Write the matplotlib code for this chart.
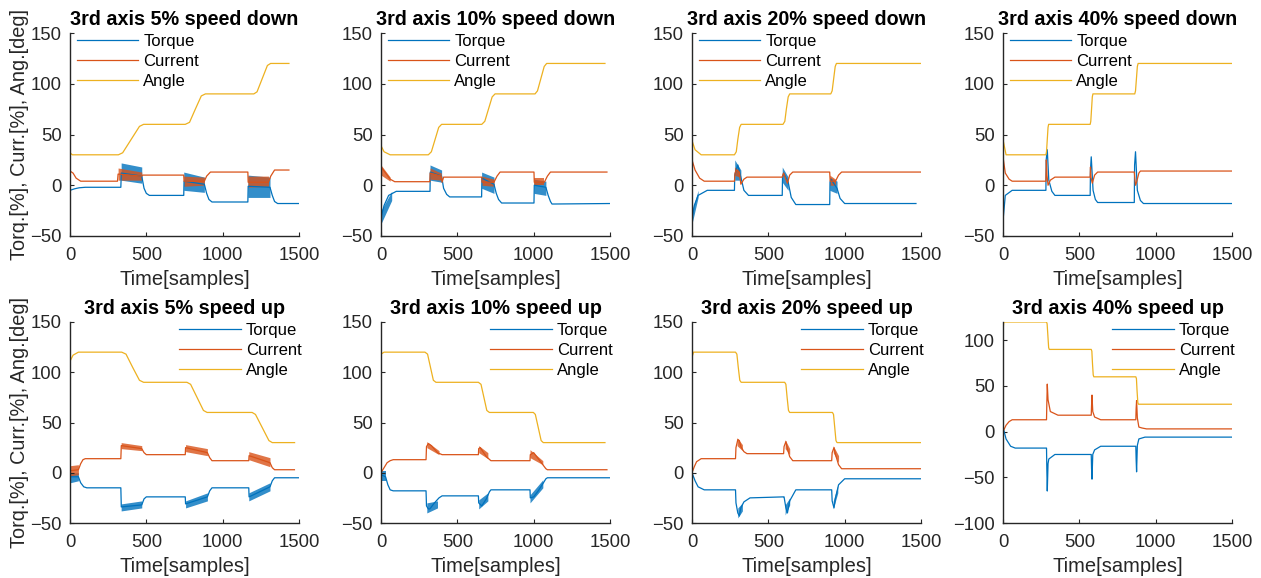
import matplotlib

matplotlib.use("Agg")
import matplotlib.pyplot as plt  # noqa: E402

plt.rcParams["font.family"] = ["Liberation Sans", "DejaVu Sans"]

TITLES = ["3rd axis 5% speed down", "3rd axis 10% speed down", "3rd axis 20% speed down",
          "3rd axis 40% speed down", "3rd axis 5% speed up", "3rd axis 10% speed up",
          "3rd axis 20% speed up", "3rd axis 40% speed up"]
YLIMS = [(-50, 150)] * 7 + [(-100, 120)]
YTICKS = [[-50, 0, 50, 100, 150]] * 7 + [[-100, -50, 0, 50, 100]]
XTICKS = [0, 500, 1000, 1500]

ANGLE_X = [
    [0, 15, 317, 345, 400, 455, 482, 755, 783, 821, 860, 887, 1204, 1225, 1259, 1293, 1314, 1434],
    [0, 20, 60, 310, 330, 354, 378, 397, 660, 680, 704, 728, 747, 1009, 1025, 1047, 1069, 1085, 1467],
    [0, 20, 60, 278, 290, 300, 312, 322, 596, 608, 618, 630, 640, 909, 918, 928, 938, 946, 1500],
    [0, 20, 281, 285, 290, 295, 299, 571, 575, 580, 585, 589, 863, 868, 874, 880, 885, 1500],
    [0, 20, 55, 339, 367, 410, 455, 482, 766, 790, 832, 874, 898, 1193, 1215, 1259, 1303, 1325, 1471],
    [0, 20, 288, 305, 324, 343, 360, 638, 655, 674, 693, 710, 998, 1011, 1030, 1049, 1063, 1467],
    [0, 10, 285, 294, 303, 313, 322, 607, 615, 623, 632, 640, 920, 927, 935, 943, 950, 1500],
    [0, 5, 285, 289, 294, 299, 303, 578, 582, 586, 591, 595, 870, 874, 878, 883, 887, 1500],
]
ANGLE_Y = [
    [32, 30, 30, 32, 45, 58, 60, 60, 62, 75, 88, 90, 90, 92, 105, 118, 120, 120],
    [39, 33, 30, 30, 33, 45, 57, 60, 60, 63, 75, 87, 90, 90, 93, 105, 117, 120, 120],
    [44, 35, 30, 30, 33, 45, 57, 60, 60, 63, 75, 87, 90, 90, 93, 105, 117, 120, 120],
    [45, 30, 30, 33, 45, 57, 60, 60, 63, 75, 87, 90, 90, 93, 105, 117, 120, 120],
    [111, 117, 120, 120, 118, 105, 92, 90, 90, 88, 75, 62, 60, 60, 58, 45, 32, 30, 30],
    [118, 120, 120, 118, 105, 92, 90, 90, 88, 75, 62, 60, 60, 58, 45, 32, 30, 30],
    [115, 120, 120, 118, 105, 92, 90, 90, 88, 75, 62, 60, 60, 58, 45, 32, 30, 30],
    [110, 120, 120, 118, 105, 92, 90, 90, 88, 75, 62, 60, 60, 58, 45, 32, 30, 30],
]
TORQUE_X = [
    [0, 30, 60, 100, 333, 336, 470, 485, 500, 520, 745, 747, 880, 895, 910, 930, 1165, 1167, 1310, 1325, 1340, 1360, 1500],
    [0, 20, 50, 100, 321, 323, 397, 410, 430, 450, 659, 661, 740, 755, 770, 790, 1002, 1004, 1080, 1095, 1110, 1120, 1500],
    [0, 15, 40, 100, 278, 280, 300, 320, 340, 370, 591, 593, 600, 630, 650, 680, 902, 904, 910, 950, 970, 1000, 1467],
    [0, 15, 60, 281, 283, 290, 300, 320, 340, 571, 573, 578, 590, 605, 620, 860, 862, 868, 880, 900, 920, 1500],
    [0, 55, 70, 90, 110, 333, 336, 470, 485, 500, 755, 757, 900, 915, 930, 1171, 1173, 1310, 1325, 1340, 1500],
    [0, 30, 45, 60, 80, 295, 298, 310, 320, 350, 380, 400, 638, 640, 660, 690, 710, 720, 976, 978, 1000, 1030, 1060, 1080, 1090, 1500],
    [0, 20, 40, 80, 285, 288, 300, 310, 320, 340, 380, 600, 603, 615, 625, 640, 680, 915, 918, 930, 940, 960, 1000, 1500],
    [0, 20, 50, 80, 285, 287, 290, 295, 300, 340, 578, 580, 583, 588, 600, 640, 870, 872, 875, 880, 890, 930, 1500],
]
TORQUE_Y = [
    [-5, -3.5, -2.5, -2, -2, 12, 9, -3, -8, -10, -10, 4, 1, -8, -14, -16.5, -16.5, -1, -2, -10, -16, -18, -18],
    [-32, -20, -10, -6, -6, 13, 9, -3, -9, -11.5, -11.5, 7, 1, -8, -14, -17.5, -17.5, 0, -2, -10, -16, -18.5, -18],
    [-33, -20, -10, -5, -5, 10, 20, 8, -5, -10, -10, 8, 12, 3, -12, -19, -19, 3, 6, -3, -13, -18, -18],
    [-35, -10, -5, -5, 25, 35, 5, -6, -10, -10, 15, 28, -5, -14, -17, -17, 20, 33, -5, -15, -18, -18],
    [-4, -4, -10, -14, -15, -15, -34, -32, -26, -24, -24, -31, -24, -18, -15, -15, -24, -14, -8, -5, -5],
    [-2, -4, -12, -17, -18, -18, -33, -36, -36, -30, -25, -23, -23, -30, -33, -26, -19, -17, -17, -25, -24, -18, -11, -6, -5, -5],
    [0, -8, -14, -17, -17, -30, -40, -43, -35, -29, -25, -24, -24, -35, -40, -28, -17, -17, -28, -35, -25, -12, -6, -6],
    [5, -8, -16, -18, -18, -40, -65, -35, -30, -25, -25, -40, -52, -25, -20, -16, -16, -30, -44, -15, -8, -6, -6],
]
CURRENT_X = [
    [0, 20, 40, 70, 311, 315, 470, 475, 745, 747, 880, 895, 920, 1165, 1167, 1300, 1315, 1340, 1434],
    [0, 30, 60, 90, 320, 322, 395, 400, 410, 660, 662, 740, 760, 780, 1002, 1004, 1070, 1090, 1110, 1480],
    [0, 20, 50, 80, 278, 282, 290, 310, 320, 340, 360, 591, 595, 600, 625, 640, 660, 902, 905, 940, 960, 980, 1500],
    [0, 15, 40, 60, 281, 284, 288, 295, 310, 340, 571, 573, 576, 585, 600, 620, 860, 863, 868, 875, 890, 900, 1500],
    [0, 55, 70, 85, 100, 333, 336, 470, 485, 500, 755, 757, 900, 915, 930, 1171, 1173, 1310, 1325, 1340, 1470],
    [0, 20, 40, 60, 80, 295, 298, 310, 330, 370, 400, 638, 640, 650, 690, 720, 976, 978, 1000, 1040, 1080, 1090, 1480],
    [0, 15, 30, 60, 285, 288, 300, 310, 320, 340, 360, 600, 603, 615, 625, 640, 660, 915, 918, 930, 940, 960, 980, 1500],
    [0, 20, 40, 60, 285, 287, 290, 295, 310, 360, 578, 580, 583, 588, 600, 640, 870, 872, 875, 880, 890, 910, 940, 1500],
]
CURRENT_Y = [
    [14, 12, 7, 4, 4, 11, 9, 10, 10, 4, 4, 9, 13, 13, 3, 3, 9, 15, 15],
    [18, 12, 6, 3.5, 3.5, 12, 9, 3, 8, 8, 3, 3, 9, 13, 13, 3, 3, 9, 13, 13],
    [25, 15, 7, 4, 4, 12, 15, 13, 1, 6, 8, 8, 10, 12, 2, 10, 13, 13, 4, 4, 10, 13, 13],
    [28, 12, 6, 4, 4, 25, 10, 0, 5, 8, 8, 18, 8, 2, 10, 13, 13, 8, 0, 3, 12, 14, 14],
    [2, 3, 9, 13, 14, 14, 27, 24, 20, 18, 18, 25, 20, 15, 12, 12, 17, 10, 5, 3, 3],
    [0, 5, 10, 12, 13, 13, 26, 29, 27, 20, 18, 18, 24, 25, 16, 12, 12, 18, 20, 12, 4, 3, 3],
    [0, 6, 11, 14, 14, 25, 33, 32, 26, 21, 19, 19, 26, 31, 24, 16, 12, 12, 20, 25, 18, 8, 4, 4],
    [0, 7, 11, 13, 13, 30, 52, 35, 22, 18, 18, 28, 40, 22, 16, 13, 13, 25, 34, 15, 5, 4, 3, 3],
]
# noisy stretches: (x range, lower edge, upper edge)
TORQUE_BANDS = [
    [([335, 470], [5, 2], [22, 18]), ([745, 880], [-5, -7], [13, 8]), ([1165, 1310], [-12, -12], [10, 8])],
    [([0, 70], [-38, -15], [-25, -6]), ([321, 397], [5, 3], [20, 15]), ([659, 740], [-3, -8], [13, 8]),
     ([1002, 1080], [-8, -10], [6, 4])],
    [([0, 40], [-38, -12], [-25, -5]), ([280, 320], [5, 5], [25, 15]), ([591, 630], [3, -5], [18, 8]),
     ([902, 950], [-5, -8], [8, 4])],
    [],
    [([0, 55], [-10, -8], [0, 0]), ([335, 470], [-38, -35], [-31, -28]), ([757, 900], [-35, -28], [-28, -20]),
     ([1171, 1310], [-28, -18], [-20, -10])],
    [([0, 30], [-8, -8], [2, 2]), ([300, 370], [-40, -35], [-30, -28]), ([640, 700], [-36, -28], [-27, -20]),
     ([976, 1060], [-30, -15], [-22, -7])],
    [([300, 330], [-45, -38], [-35, -30]), ([610, 640], [-42, -32], [-32, -25]), ([925, 955], [-36, -20], [-28, -12])],
    [],
]
CURRENT_BANDS = [
    [([315, 470], [5, 5], [17, 13]), ([745, 880], [-1, 0], [9, 8]), ([1165, 1300], [-2, -1], [9, 9])],
    [([0, 60], [10, 4], [20, 8]), ([321, 395], [6, 5], [17, 12]), ([660, 740], [0, -1], [9, 6]),
     ([1002, 1070], [0, 0], [7, 7])],
    [([278, 310], [10, 8], [18, 15]), ([902, 940], [0, 0], [10, 6])],
    [],
    [([0, 55], [-3, -2], [7, 8]), ([335, 470], [24, 22], [30, 27]), ([757, 900], [21, 17], [28, 24]),
     ([1171, 1310], [13, 6], [21, 15])],
    [([300, 380], [25, 18], [31, 22]), ([640, 700], [20, 14], [27, 20]), ([976, 1060], [15, 8], [23, 12])],
    [([295, 330], [27, 22], [35, 28]), ([610, 640], [24, 18], [33, 24]), ([925, 960], [20, 10], [27, 17])],
    [],
]

C_TORQUE, C_CURRENT, C_ANGLE = "#0072BD", "#D95319", "#EDB120"
AX_COLOR = "#262626"
W, H = 1261, 578
LEFTS = [70, 381, 692, 1003]


def main() -> None:
    fig = plt.figure(figsize=(W / 100, H / 100), dpi=100)
    for i in range(8):
        row, col = divmod(i, 4)
        top, bottom = (33, 236) if row == 0 else (322, 523)
        ax = fig.add_axes([LEFTS[col] / W, 1 - bottom / H, 229 / W, (bottom - top) / H])
        for xs, lo, hi in TORQUE_BANDS[i]:
            ax.fill_between(xs, lo, hi, color=C_TORQUE, lw=0, alpha=0.8)
        ax.plot(TORQUE_X[i], TORQUE_Y[i], color=C_TORQUE, lw=0.9, label="Torque")
        for xs, lo, hi in CURRENT_BANDS[i]:
            ax.fill_between(xs, lo, hi, color=C_CURRENT, lw=0, alpha=0.8)
        ax.plot(CURRENT_X[i], CURRENT_Y[i], color=C_CURRENT, lw=0.9, label="Current")
        ax.plot(ANGLE_X[i], ANGLE_Y[i], color=C_ANGLE, lw=0.9, label="Angle")
        ax.set_xlim(0, 1500); ax.set_ylim(*YLIMS[i])
        ax.set_xticks(XTICKS); ax.set_yticks(YTICKS[i])
        for s in ("top", "right"):
            ax.spines[s].set_visible(False)
        for s in ("left", "bottom"):
            ax.spines[s].set_color(AX_COLOR); ax.spines[s].set_linewidth(1.0)
        ax.tick_params(direction="in", length=3, labelsize=13.3, colors=AX_COLOR)
        ax.tick_params(axis="x", pad=8)
        ax.tick_params(axis="y", pad=6)
        ax.set_title(TITLES[i], fontsize=14.2, fontweight="bold", pad=6)
        ax.set_xlabel("Time[samples]", fontsize=14.5, color=AX_COLOR, labelpad=4)
        if col == 0:
            ax.set_ylabel("Torq.[%], Curr.[%], Ang.[deg]", fontsize=14.3, color=AX_COLOR, labelpad=1)
        if row == 0:
            leg = ax.legend(loc="upper left", bbox_to_anchor=(0.0, 1.03), fontsize=12,
                            frameon=False, handlelength=3.7, handletextpad=0.3,
                            labelspacing=0.3, borderaxespad=0)
        else:
            leg = ax.legend(loc="upper right", bbox_to_anchor=(1.04, 1.03), fontsize=12,
                            frameon=False, handlelength=3.7, handletextpad=0.3,
                            labelspacing=0.3, borderaxespad=0)
        for t in leg.get_texts():
            t.set_color("black")
    fig.savefig("out.png", dpi=100)


if __name__ == "__main__":
    main()
